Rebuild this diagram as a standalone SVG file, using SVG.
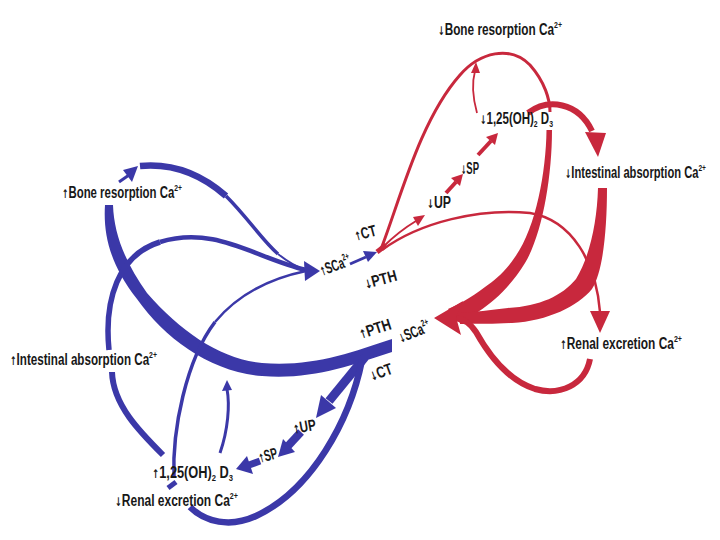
<svg xmlns="http://www.w3.org/2000/svg" width="720" height="540" viewBox="0 0 720 540">
<style>
.t{font-family:'Liberation Sans Narrow','Liberation Sans',Arial,sans-serif;font-size:16px;font-weight:bold;fill:#181818}
.s{font-size:9.5px}
.a{font-family:'DejaVu Sans Condensed','DejaVu Sans',sans-serif;font-size:12px;font-weight:bold}
.b{fill:none;stroke:#3b38a8;stroke-linecap:butt}
.bf{fill:#3b38a8}
.r{fill:none;stroke:#c8283d;stroke-linecap:butt}
.rf{fill:#c8283d}
</style>
<rect width="720" height="540" fill="#ffffff"/>
<g id="connectors">
  <!-- blue side -->
  <path class="bf" d="M392,339 C350,353 312,367 262,363 C221,359 182,333 147,293 C125,262 114,234 113,205 L105,205 C103,236 111,266 137,299 C165,339 211,372 262,376 C310,380 350,366 392,352 Z"/>
  <path class="b" stroke-width="9" d="M365,357 L329,401"/>
  <polygon class="bf" points="316,418 336,408 321,395"/>
  <path class="b" stroke-width="6.5" d="M362,360 C350,420 312,490 256,516 C230,528 205,522 190,507"/>
  <path class="b" stroke-width="8" d="M301,432 L288,446"/>
  <polygon class="bf" points="278,457 295,452 283,439"/>
  <path class="b" stroke-width="7" d="M260,461 L249,465"/>
  <polygon class="bf" points="236,469 253,474 247,456"/>
  <path class="b" stroke-width="3" d="M220,453 C228,430 230,405 227,389"/>
  <polygon class="bf" points="227,380 222,391 232,390"/>
  <path class="b" stroke-width="6" d="M163,455 C140,432 113,405 112,372"/>
  <path class="b" stroke-width="5.5" d="M109,350 C104,300 118,255 160,242"/>
  <path class="b" stroke-width="4.5" d="M160,242 C215,225 255,258 306,270"/>
  <path class="b" stroke-width="3.5" d="M174,478 C172,430 186,360 215,322"/>
  <path class="b" stroke-width="2.5" d="M215,322 C240,292 272,278 306,271"/>
  <path class="b" stroke-width="5" d="M168,488 L176,482"/>
  <path class="b" stroke-width="6.5" d="M140,166 C172,163 200,173 226,196"/>
  <path class="b" stroke-width="3.5" d="M226,196 C248,218 262,240 278,254"/>
  <path class="b" stroke-width="2" d="M278,254 C288,262 296,267 306,270"/>
  <path class="b" stroke-width="3" d="M119,182 L129,175"/>
  <polygon class="bf" points="138,166 123,170 132,182"/>
  <polygon class="bf" points="320,271 304,261 305,281"/>
  <path class="b" stroke-width="3" d="M350,264 L366,257"/>
  <polygon class="bf" points="377,252 363,251 368,262"/>
  <!-- red side -->
  <path class="r" stroke-width="5" d="M377,252 L386,245"/>
  <path class="r" stroke-width="3" d="M381,249 C400,200 420,120 460,75 C480,52 510,45 530,65 C545,82 550,100 550,112"/>
  <path class="rf" d="M546.5,130 C546,172 536,228 515,257 C505,272 495,280 485,287 C470,298 460,304 448,309 L460,323 C472,316 485,308 495,299 C505,290 516,278 525,263 C542,235 552,178 552,130 Z"/>
  <path class="r" stroke-width="2" d="M383,247 C395,235 406,227 416,221"/>
  <polygon class="rf" points="425,215 413,217 418,226"/>
  <path class="r" stroke-width="2.5" d="M382,250 C420,222 480,208 530,213 C572,220 596,262 600,312"/>
  <polygon class="rf" points="600,333 590,311 610,311"/>
  <path class="r" stroke-width="4" d="M446,193 L456,182"/>
  <polygon class="rf" points="463,174 460,186 451,178"/>
  <path class="r" stroke-width="4" d="M478,155 L491,141"/>
  <polygon class="rf" points="498,133 495,145 486,137"/>
  <path class="r" stroke-width="1.8" d="M477,113 C472,95 472,82 475,71"/>
  <polygon class="rf" points="476,62 471,73 480,73"/>
  <path class="r" stroke-width="6" d="M528,113 C548,98 578,102 592,131"/>
  <polygon class="rf" points="598,157 585,132 606,133"/>
  <path class="rf" d="M598,188 C597,222 590,256 576,279 C562,296 540,306 508,308 C490,310 475,312 460,313 L460,324 C480,324 495,324 512,323 C548,321 578,306 592,289 C603,272 607,230 607,188 Z"/>
  <path class="r" stroke-width="6" d="M590,359 C585,385 560,396 535,389 C510,381 490,357 476,332 C470,323 465,320 456,318"/>
  <polygon class="rf" points="434,318 463,301 456,317 461,335"/>
</g>
<g id="blue-nodes">
  <g id="b-bone"><text class="t" x="62" y="198" textLength="120" lengthAdjust="spacingAndGlyphs"><tspan class="a">↑</tspan>Bone resorption Ca<tspan class="s" dy="-7">2+</tspan></text></g>
  <g id="b-intestinal"><text class="t" x="10" y="365" textLength="147" lengthAdjust="spacingAndGlyphs"><tspan class="a">↑</tspan>Intestinal  absorption Ca<tspan class="s" dy="-7">2+</tspan></text></g>
  <g id="b-vitd"><text class="t" x="152" y="478" textLength="81" lengthAdjust="spacingAndGlyphs"><tspan class="a">↑</tspan>1,25(OH)<tspan class="s" dy="3">2</tspan><tspan dy="-3"> D</tspan><tspan class="s" dy="3">3</tspan></text></g>
  <g id="b-renal"><text class="t" x="115" y="506" textLength="123" lengthAdjust="spacingAndGlyphs"><tspan class="a">↓</tspan>Renal excretion Ca<tspan class="s" dy="-7">2+</tspan></text></g>
  <g id="b-sp"><text class="t" x="260" y="463" textLength="19" lengthAdjust="spacingAndGlyphs" transform="rotate(-15 260 463)"><tspan class="a">↑</tspan>SP</text></g>
  <g id="b-up"><text class="t" x="294" y="434" textLength="23" lengthAdjust="spacingAndGlyphs" transform="rotate(-10 294 434)"><tspan class="a">↑</tspan>UP</text></g>
  <g id="b-sca"><text class="t" x="401" y="343" textLength="33" lengthAdjust="spacingAndGlyphs" transform="rotate(-22 401 343)"><tspan class="a">↓</tspan>SCa<tspan class="s" dy="-7">2+</tspan></text></g>
  <g id="b-pth"><text class="t" x="361" y="339" textLength="33" lengthAdjust="spacingAndGlyphs" transform="rotate(-18 361 339)"><tspan class="a">↑</tspan>PTH</text></g>
  <g id="b-ct"><text class="t" x="372" y="381" textLength="23" lengthAdjust="spacingAndGlyphs" transform="rotate(-20 372 381)"><tspan class="a">↓</tspan>CT</text></g>
</g>
<g id="red-nodes">
  <g id="r-sca"><text class="t" x="322" y="276" textLength="32" lengthAdjust="spacingAndGlyphs" transform="rotate(-20 322 276)"><tspan class="a">↑</tspan>SCa<tspan class="s" dy="-7">2+</tspan></text></g>
  <g id="r-ct"><text class="t" x="356" y="241" textLength="22" lengthAdjust="spacingAndGlyphs" transform="rotate(-15 356 241)"><tspan class="a">↑</tspan>CT</text></g>
  <g id="r-pth"><text class="t" x="366" y="289" textLength="33" lengthAdjust="spacingAndGlyphs" transform="rotate(-15 366 289)"><tspan class="a">↓</tspan>PTH</text></g>
  <g id="r-up"><text class="t" x="427" y="208" textLength="24" lengthAdjust="spacingAndGlyphs"><tspan class="a">↓</tspan>UP</text></g>
  <g id="r-sp"><text class="t" x="461" y="174" textLength="18" lengthAdjust="spacingAndGlyphs"><tspan class="a">↓</tspan>SP</text></g>
  <g id="r-vitd"><text class="t" x="480" y="124" textLength="73" lengthAdjust="spacingAndGlyphs"><tspan class="a">↓</tspan>1,25(OH)<tspan class="s" dy="3">2</tspan><tspan dy="-3"> D</tspan><tspan class="s" dy="3">3</tspan></text></g>
  <g id="r-bone"><text class="t" x="438" y="35" textLength="124" lengthAdjust="spacingAndGlyphs"><tspan class="a">↓</tspan>Bone resorption Ca<tspan class="s" dy="-7">2+</tspan></text></g>
  <g id="r-intestinal"><text class="t" x="565" y="178" textLength="141" lengthAdjust="spacingAndGlyphs"><tspan class="a">↓</tspan>Intestinal absorption Ca<tspan class="s" dy="-7">2+</tspan></text></g>
  <g id="r-renal"><text class="t" x="560" y="349" textLength="122" lengthAdjust="spacingAndGlyphs"><tspan class="a">↑</tspan>Renal excretion Ca<tspan class="s" dy="-7">2+</tspan></text></g>
</g>
</svg>
